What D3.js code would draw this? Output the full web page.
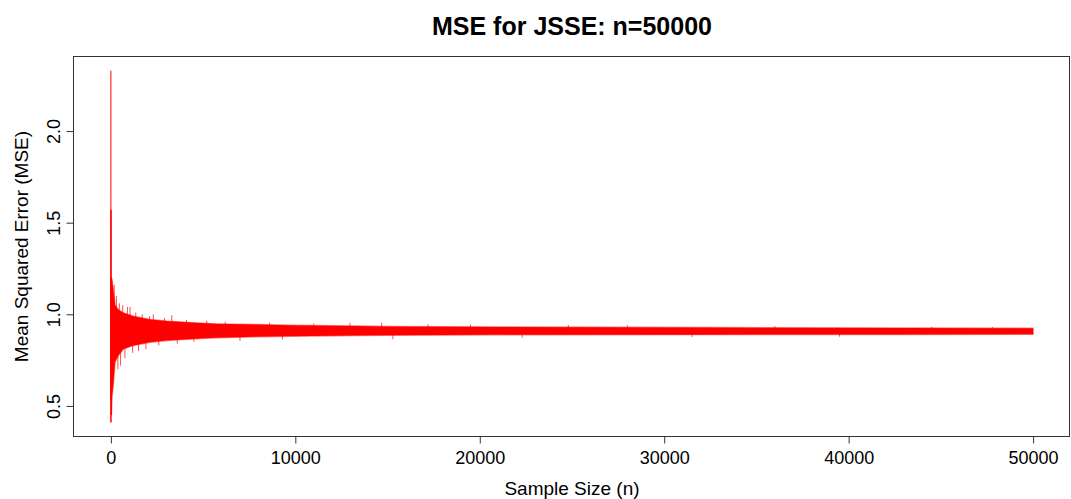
<!DOCTYPE html>
<html>
<head>
<meta charset="utf-8">
<script src="https://cdn.jsdelivr.net/npm/d3@7"></script>
<style>
  body { margin: 0; background: #fff; }
  text { font-family: "Liberation Sans", Arial, sans-serif; fill: #000; }
</style>
</head>
<body>
<div id="mse-chart"></div>
<script>
const titleText = "MSE for JSSE: n=50000";
const xLabel = "Sample Size (n)";
const yLabel = "Mean Squared Error (MSE)";
const xTicks = [0, 10000, 20000, 30000, 40000, 50000];
const yTicks = [0.5, 1.0, 1.5, 2.0];

// very first samples: the big spike right at n ~ 0
const earlyN = [1, 3, 5, 8, 12, 18, 25, 30];
const earlyMse = [2.33, 0.41, 1.57, 0.53, 1.20, 0.60, 1.15, 0.45];

// envelope of the noisy trace after that
const bandN = [30, 65, 135, 228, 406, 678, 1220, 2125, 3030, 4835, 5740, 7900, 9700, 13300, 15100, 21000, 32000, 43000, 50000];
const bandLow = [0.45, 0.55, 0.62, 0.74, 0.775, 0.81, 0.83, 0.847, 0.857, 0.868, 0.872, 0.877, 0.88, 0.884, 0.886, 0.888, 0.889, 0.89, 0.891];
const bandHigh = [1.20, 1.19, 1.13, 1.05, 1.025, 1.008, 0.99, 0.972, 0.963, 0.952, 0.948, 0.944, 0.94, 0.936, 0.934, 0.931, 0.928, 0.925, 0.924];

// single spikes that stick out of the band
const spikeN = [180, 300, 380, 460, 520, 640, 760, 900, 1040, 1180, 1350, 1500, 1700, 1900, 2100, 2300, 2600, 2900, 3300, 3600, 4100, 4500, 5200, 6200, 7000, 8600, 9300, 11000, 12960, 14680, 15290, 17200, 19500, 22300, 24800, 28000, 31500, 36000, 39500, 44500, 47800];
const spikeMse = [1.16, 1.10, 0.70, 1.06, 0.72, 1.05, 0.76, 1.04, 1.04, 0.79, 1.01, 0.80, 1.0, 0.81, 0.99, 1.0, 0.83, 0.98, 0.995, 0.84, 0.97, 0.85, 0.965, 0.96, 0.855, 0.955, 0.862, 0.95, 0.954, 0.954, 0.864, 0.946, 0.945, 0.872, 0.942, 0.94, 0.876, 0.936, 0.878, 0.932, 0.93];

function drawChart() {
  const width = 1071, height = 499;
  const plot = { left: 74, right: 1070, top: 56.5, bottom: 436.5 };

  const svg = d3.select("#mse-chart")
    .append("svg")
    .attr("width", width)
    .attr("height", height);

  // R pads both axes by 4% of the data range
  const xExt = [1, 50000];
  const xPad = (xExt[1] - xExt[0]) * 0.04;
  const xScale = d3.scaleLinear()
    .domain([xExt[0] - xPad, xExt[1] + xPad])
    .range([plot.left, plot.right]);

  const yExt = d3.extent([...earlyMse, ...bandLow, ...bandHigh, ...spikeMse]);
  const yPad = (yExt[1] - yExt[0]) * 0.04;
  const yScale = d3.scaleLinear()
    .domain([yExt[0] - yPad, yExt[1] + yPad])
    .range([plot.bottom, plot.top]);

  const plotGroup = svg.append("g");

  const band = bandN.map((n, i) => ({ n: n, lo: bandLow[i], hi: bandHigh[i] }));

  plotGroup.append("path")
    .datum(band)
    .attr("d", d3.area()
      .x(d => xScale(d.n))
      .y0(d => yScale(d.lo))
      .y1(d => yScale(d.hi)))
    .attr("fill", "#ff0000")
    .attr("stroke", "#ff0000")
    .attr("stroke-opacity", 0.5)
    .attr("stroke-width", 1.4);

  const early = earlyN.map((n, i) => ({ n: n, v: earlyMse[i] }));
  plotGroup.append("path")
    .datum(early)
    .attr("d", d3.line().x(d => xScale(d.n)).y(d => yScale(d.v)))
    .attr("fill", "none")
    .attr("stroke", "#ff0000")
    .attr("stroke-width", 1);

  // spikes go from the middle of the band out to their value
  const mid = d3.scaleLinear()
    .domain(bandN)
    .range(bandN.map((n, i) => (bandLow[i] + bandHigh[i]) / 2));

  plotGroup.selectAll(".spike")
    .data(spikeN.map((n, i) => ({ n: n, v: spikeMse[i] })))
    .enter()
    .append("line")
    .attr("class", "spike")
    .attr("x1", d => xScale(d.n))
    .attr("x2", d => xScale(d.n))
    .attr("y1", d => yScale(mid(d.n)))
    .attr("y2", d => yScale(d.v))
    .attr("stroke", "#ff0000")
    .attr("stroke-opacity", 0.7)
    .attr("stroke-width", 1);

  // box around the plot region
  svg.append("rect")
    .attr("x", plot.left - 0.5)
    .attr("y", plot.top)
    .attr("width", plot.right - plot.left)
    .attr("height", plot.bottom - plot.top)
    .attr("fill", "none")
    .attr("stroke", "#333")
    .attr("stroke-width", 1);

  // x axis
  const xAxis = svg.append("g")
    .attr("transform", `translate(0,${plot.bottom})`)
    .call(d3.axisBottom(xScale)
      .tickValues(xTicks)
      .tickFormat(d3.format("d"))
      .tickSize(7)
      .tickPadding(8));
  xAxis.select(".domain").remove();
  xAxis.selectAll(".tick line").attr("stroke", "#333");
  xAxis.selectAll("text")
    .attr("font-size", "18px")
    .attr("font-family", null);

  // y axis, labels turned like R's las=0
  const yAxis = svg.append("g")
    .attr("transform", `translate(${plot.left - 0.5},0)`)
    .call(d3.axisLeft(yScale)
      .tickValues(yTicks)
      .tickFormat(d3.format(".1f"))
      .tickSize(7));
  yAxis.select(".domain").remove();
  yAxis.selectAll(".tick line").attr("stroke", "#333");
  yAxis.selectAll("text")
    .attr("font-size", "18px")
    .attr("font-family", null)
    .attr("transform", "rotate(-90)")
    .attr("x", 0)
    .attr("y", -14)
    .attr("dy", 0)
    .style("text-anchor", "middle");

  // title and axis labels
  svg.append("text")
    .attr("x", (plot.left + plot.right) / 2)
    .attr("y", 35)
    .attr("text-anchor", "middle")
    .attr("font-size", "25px")
    .attr("font-weight", "bold")
    .text(titleText);

  svg.append("text")
    .attr("x", (plot.left + plot.right) / 2)
    .attr("y", 495)
    .attr("text-anchor", "middle")
    .attr("font-size", "19px")
    .text(xLabel);

  svg.append("text")
    .attr("transform", `translate(27.5,${(plot.top + plot.bottom) / 2}) rotate(-90)`)
    .attr("text-anchor", "middle")
    .attr("font-size", "19px")
    .text(yLabel);
}

drawChart();
</script>
</body>
</html>
